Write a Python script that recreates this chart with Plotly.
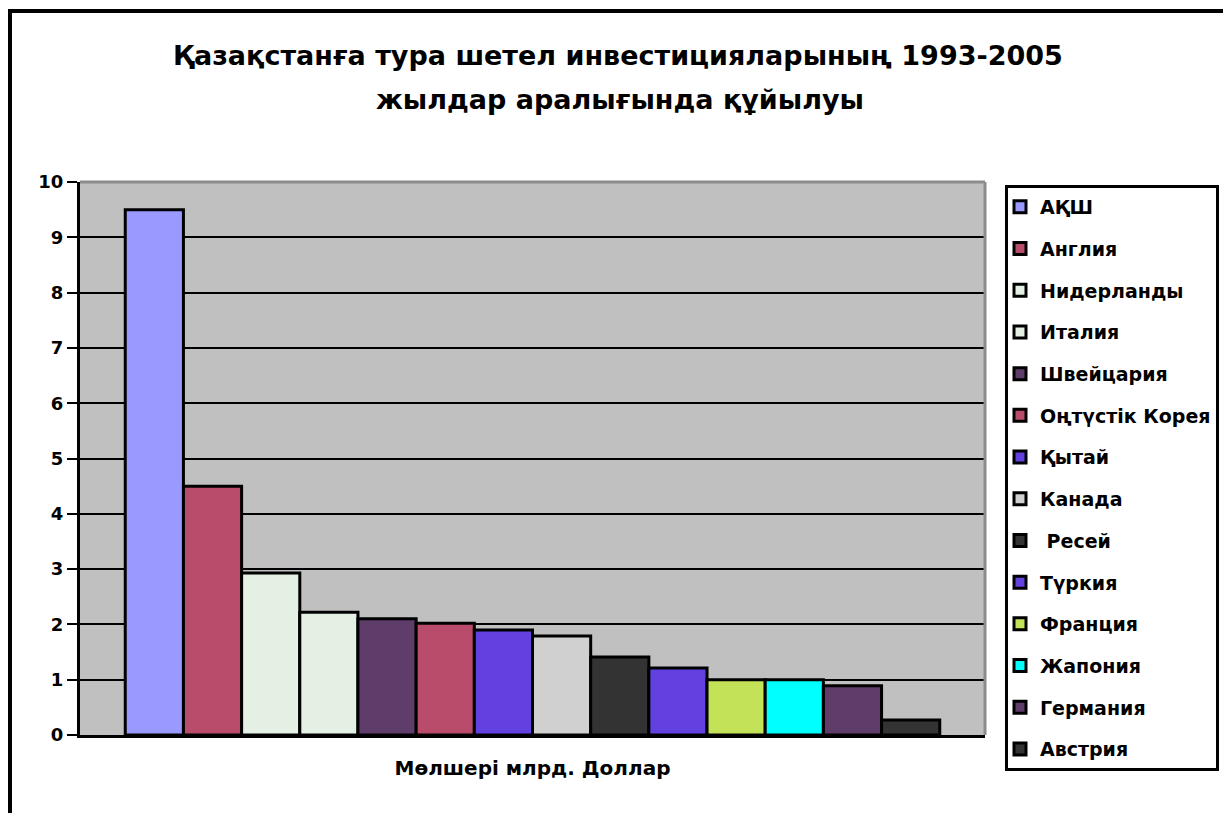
import plotly.graph_objects as go

countries = ["АҚШ", "Англия", "Нидерланды", "Италия", "Швейцария", "Оңтүстік Корея",
             "Қытай", "Канада", " Ресей", "Түркия", "Франция", "Жапония", "Германия", "Австрия"]
values = [9.5, 4.5, 2.93, 2.22, 2.1, 2.02, 1.9, 1.79, 1.41, 1.21, 1.0, 1.0, 0.89, 0.27]
colors = ["#9999FF", "#B94C6A", "#E4F0E4", "#E4F0E4", "#5E3D6B", "#B94C6A",
          "#6340E0", "#D0D0D0", "#333333", "#6340E0", "#C4E257", "#00FFFF", "#5E3D6B", "#333333"]
category = ["Мөлшері млрд. Доллар"]
title_line1 = "Қазақстанға тура шетел инвестицияларының 1993-2005"
title_line2 = "жылдар аралығында құйылуы"
xaxis_title = "Мөлшері млрд. Доллар"
y_ticks = list(range(0, 11))

FONT = "DejaVu Sans"

fig = go.Figure()
for i, (name, v, c) in enumerate(zip(countries, values, colors)):
    fig.add_trace(go.Bar(
        x=category, y=[v], name=name, legendgroup=f"g{i}",
        marker=dict(color=c, line=dict(color="black", width=3)),
    ))

W, H = 1223, 813
L, R, T, B = 80, 985, 182, 735
pw, ph = R - L, B - T

def px(x):
    return (x - L) / pw

def py(y):
    return (B - y) / ph

fig.update_layout(
    width=W, height=H,
    margin=dict(l=L, r=W - R, t=T, b=H - B, autoexpand=False),
    paper_bgcolor="white", plot_bgcolor="#C0C0C0",
    barmode="group", bargap=0.1, bargroupgap=0,
    font=dict(family=FONT, color="black", size=20, weight="bold"),
    showlegend=True,
    legend=dict(
        x=px(1005), y=py(185), xanchor="left", yanchor="top",
        bgcolor="white", bordercolor="black", borderwidth=3,
        font=dict(family=FONT, size=19, color="black", weight="bold"),
        tracegroupgap=14, traceorder="grouped", indentation=-8,
        maxheight=700,
    ),
    xaxis=dict(
        showticklabels=False, showgrid=False, zeroline=False,
        showline=True, linecolor="black", linewidth=3,
        title=dict(text=xaxis_title, standoff=24,
                   font=dict(family=FONT, size=20, weight="bold")),
    ),
    yaxis=dict(
        range=[0, 10], tickvals=y_ticks, showgrid=True, gridcolor="black", gridwidth=2,
        showline=True, linecolor="black", linewidth=3, zeroline=False,
        ticks="outside", ticklen=10, tickwidth=2, tickcolor="black",
        tickfont=dict(family=FONT, size=18, weight="bold"),
    ),
    shapes=[
        dict(type="line", xref="paper", yref="paper", x0=0, x1=1, y0=1, y1=1,
             line=dict(color="#8C8C8C", width=3)),
        dict(type="line", xref="paper", yref="paper", x0=1, x1=1, y0=0, y1=1,
             line=dict(color="#8C8C8C", width=3)),
        dict(type="line", xref="paper", yref="paper", x0=px(10), x1=px(10), y0=py(10), y1=py(830),
             line=dict(color="black", width=4)),
        dict(type="line", xref="paper", yref="paper", x0=px(8), x1=px(1240), y0=py(11), y1=py(11),
             line=dict(color="black", width=4)),
    ],
    annotations=[
        dict(text=title_line1, xref="paper", yref="paper", x=px(618), y=py(55),
             xanchor="center", yanchor="middle", showarrow=False,
             font=dict(family=FONT, size=27, weight="bold")),
        dict(text=title_line2, xref="paper", yref="paper", x=px(620), y=py(100),
             xanchor="center", yanchor="middle", showarrow=False,
             font=dict(family=FONT, size=27, weight="bold")),
    ],
)

fig.write_html("out.html")
